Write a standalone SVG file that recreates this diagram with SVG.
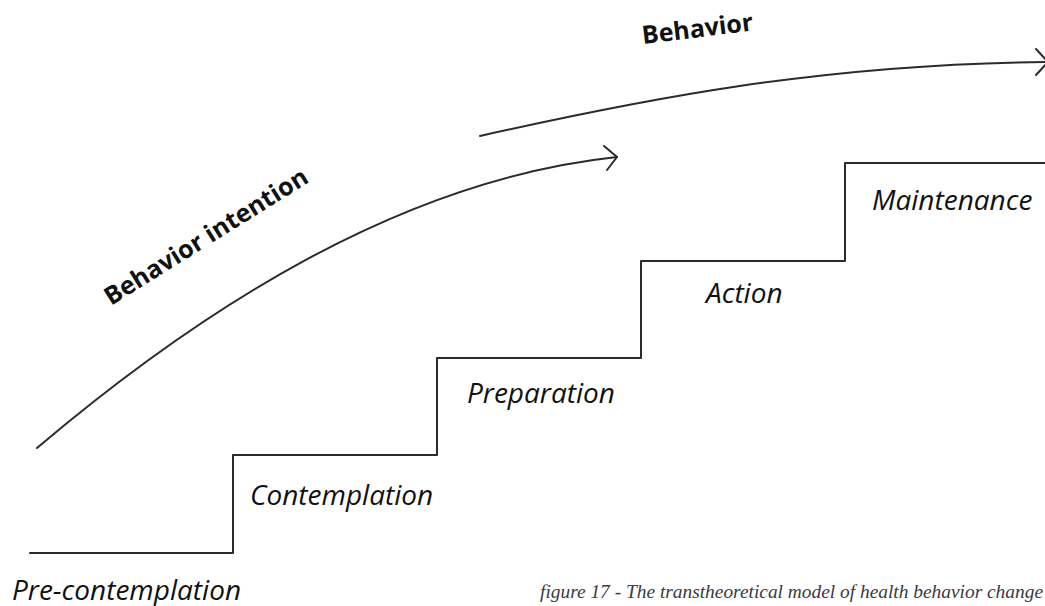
<svg xmlns="http://www.w3.org/2000/svg" width="1045" height="606" viewBox="0 0 1045 606">
  <style>
    .line { fill: none; stroke: #2a2a31; stroke-width: 2; stroke-linecap: round; stroke-linejoin: round; }
    .stage { font-family: "Open Sans", "Liberation Sans", sans-serif; font-style: italic; font-size: 28px; fill: #111; }
    .trend { font-family: "Open Sans", "Liberation Sans", sans-serif; font-weight: bold; font-size: 25px; fill: #111; }
    .caption { font-family: "Liberation Serif", "DejaVu Serif", serif; font-style: italic; font-size: 18px; fill: #3a3a42; }
  </style>
  <rect width="1045" height="606" fill="#ffffff"/>

  <!-- staircase of stages -->
  <g id="stairs">
    <path class="line" d="M30,553 H233 V455 H437 V358 H641 V261 H845 V163 H1045"/>
  </g>

  <!-- trend arrows -->
  <g id="connectors">
    <path class="line" d="M37,448 C200,310 400,180 617,157"/>
    <path class="line" d="M604,146 L617,157 L607,170"/>
    <path class="line" d="M480,136 C640,100 820,64 1045,62"/>
    <path class="line" d="M1036,49 L1048,62 L1036,75"/>
  </g>

  <g id="pre-contemplation"><text class="stage" font-size="28.5" x="12" y="600">Pre-contemplation</text></g>
  <g id="contemplation"><text class="stage" x="250" y="505">Contemplation</text></g>
  <g id="preparation"><text class="stage" x="467" y="403">Preparation</text></g>
  <g id="action"><text class="stage" x="706" y="303">Action</text></g>
  <g id="maintenance"><text class="stage" x="872" y="210">Maintenance</text></g>

  <g id="behavior-intention"><text class="trend" font-size="27" transform="translate(111,306) rotate(-32)">Behavior intention</text></g>
  <g id="behavior"><text class="trend" transform="translate(643,44) rotate(-7)">Behavior</text></g>

  <g id="caption"><text class="caption" x="540" y="598" textLength="503" lengthAdjust="spacingAndGlyphs">figure 17 - The transtheoretical model of health behavior change</text></g>
</svg>
